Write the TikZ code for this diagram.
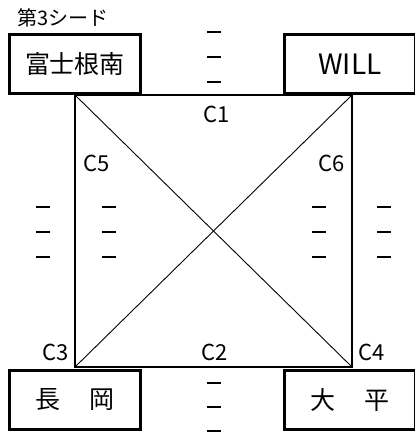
\documentclass[tikz,border=0pt]{standalone}
\usepackage{fontspec}
\setmainfont{Noto Sans CJK JP}
\tikzset{
  team/.style={draw,line width=3pt,minimum width=131pt,minimum height=59pt,inner sep=0pt,font=\fontsize{25}{28}\selectfont},
  cname/.style={inner sep=0pt,font=\fontsize{22}{24}\selectfont},
  tick/.style={line width=2.7pt}
}

\begin{document}
\begin{tikzpicture}[x=1pt,y=-1pt]
    \useasboundingbox (0,0) rectangle (415,432);

    \coordinate (TL) at (75,95);
    \coordinate (TR) at (352,95);
    \coordinate (BR) at (352,367);
    \coordinate (BL) at (75,367);

    \node[team] (fuji) at (75,64) {富士根南};
    \node[team,font=\fontsize{28}{30}\selectfont] (will) at (350,64) {WILL};
    \node[team] (naga) at (75,400) {長\hspace{1.2em}岡};
    \node[team] (ohira) at (350,400) {大\hspace{1.2em}平};
    \node[anchor=west,inner sep=0pt,font=\fontsize{20}{22}\selectfont] (seed) at (17,18) {第3シード};

    \draw[line width=2pt] (TL) -- (TR) -- (BR) -- (BL) -- cycle;
    \draw[line width=0.9pt] (TL) -- (BR);
    \draw[line width=0.9pt] (TR) -- (BL);

    \node[cname] (C1) at (217,114) {C1};
    \node[cname] (C2) at (215,352) {C2};
    \node[cname] (C3) at (56,352) {C3};
    \node[cname] (C4) at (372,352) {C4};
    \node[cname] (C5) at (97,163) {C5};
    \node[cname] (C6) at (332,163) {C6};

    % score marks
    \foreach \x/\y in {214/32, 214/57, 214/82, 214/383, 214/407, 214/431,
                       43/207, 43/232, 43/257, 109/207, 109/232, 109/257,
                       319/207, 319/232, 319/257, 384/207, 384/232, 384/257}
      \draw[tick] (\x-7,\y) -- (\x+7,\y);
\end{tikzpicture}
\end{document}
